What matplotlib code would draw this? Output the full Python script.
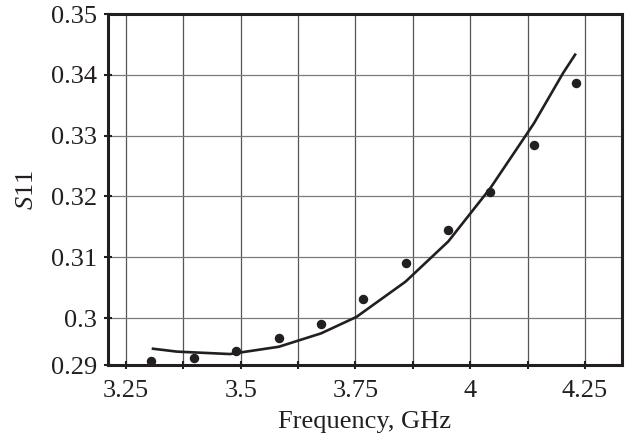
import matplotlib
matplotlib.use("Agg")
import matplotlib.pyplot as plt

# Measured points (dots)
freq_meas = [3.304, 3.398, 3.489, 3.583, 3.675, 3.767, 3.859, 3.952, 4.044, 4.139, 4.230]
s11_meas = [0.2930, 0.2934, 0.2946, 0.2968, 0.2990, 0.3031, 0.3090, 0.3145, 0.3207, 0.3284, 0.3386]

# Calculated curve (line)
freq_calc = [3.306, 3.361, 3.4765, 3.583, 3.675, 3.752, 3.859, 3.952, 4.044, 4.1385, 4.2023, 4.230]
s11_calc = [0.2950, 0.2945, 0.2941, 0.2953, 0.2975, 0.3002, 0.3060, 0.3126, 0.3214, 0.3320, 0.3403, 0.3435]

x_ticks = [3.25, 3.375, 3.5, 3.625, 3.75, 3.875, 4.0, 4.125, 4.25]
x_labels = ["3.25", "", "3.5", "", "3.75", "", "4", "", "4.25"]
y_ticks = [0.2923, 0.30, 0.31, 0.32, 0.33, 0.34, 0.35]
y_labels = ["0.29", "0.3", "0.31", "0.32", "0.33", "0.34", "0.35"]

ink = "#231f20"
plt.rcParams["font.family"] = ["Liberation Serif", "DejaVu Serif"]
plt.rcParams["mathtext.fontset"] = "custom"
plt.rcParams["mathtext.it"] = "Liberation Serif:italic"
plt.rcParams["mathtext.rm"] = "Liberation Serif"

fig = plt.figure(figsize=(6.26, 4.36), dpi=100)
ax = fig.add_axes([108/626, 1-365/436, (622-108)/626, (365-14)/436])

ax.set_xlim(3.2108, 4.3306)
ax.set_ylim(0.2923, 0.35)

for xv in x_ticks:
    ax.axvline(xv, color="#555555", lw=0.9, zorder=1)
for yv in y_ticks[1:-1]:
    ax.axhline(yv, color="#7a7a7a", lw=0.9, zorder=1)

ax.plot(freq_calc, s11_calc, color=ink, lw=1.9, zorder=3, solid_capstyle="butt",
        solid_joinstyle="round")
ax.plot(freq_meas, s11_meas, "o", color=ink, ms=5.8, zorder=4)

ax.set_xticks(x_ticks)
ax.set_xticklabels(x_labels)
ax.set_yticks(y_ticks)
ax.set_yticklabels(y_labels)

ax.tick_params(direction="inout", length=6, width=1.5, color=ink, labelcolor=ink,
               labelsize=19)
ax.tick_params(axis="x", pad=8)
ax.tick_params(axis="y", pad=5)

for sp in ax.spines.values():
    sp.set_linewidth(2.2)
    sp.set_color(ink)
    sp.set_zorder(5)

ax.set_xlabel("Frequency, GHz", fontsize=19, color=ink, labelpad=6)
ax.set_ylabel(r"$S$11", fontsize=19, color=ink, labelpad=9)

fig.savefig("out.png", dpi=100)
